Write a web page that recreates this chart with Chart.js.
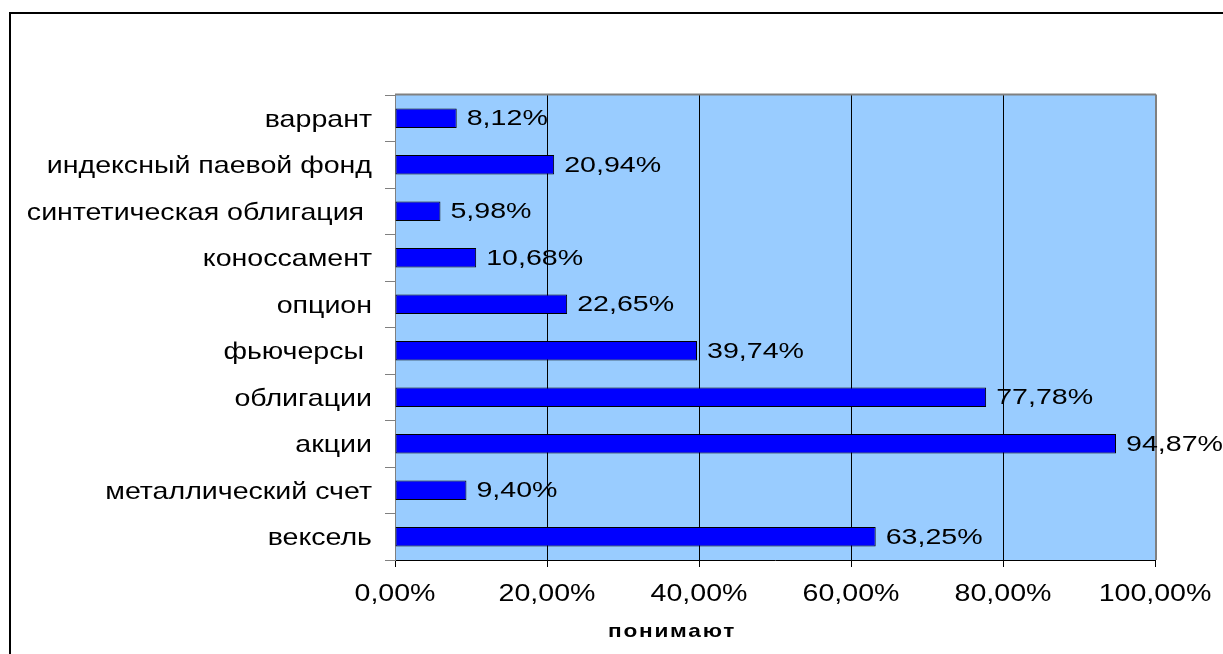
<!DOCTYPE html>
<html><head><meta charset="utf-8">
<script src="https://cdn.jsdelivr.net/npm/chart.js@4.4.1/dist/chart.umd.min.js"></script>
<style>
html,body{margin:0;padding:0;background:#fff;overflow:hidden;}
#wrap{position:relative;width:1223px;height:654px;}
#frame{position:absolute;left:9px;top:12px;width:1240px;height:680px;border:2px solid #000;pointer-events:none;}
canvas{position:absolute;left:0;top:0;}
</style></head>
<body>
<div id="wrap"><div id="frame"></div><canvas id="c" width="1223" height="654"></canvas></div>
<script>
const categories = ['варрант','индексный паевой фонд','синтетическая облигация ','коноссамент','опцион','фьючерсы ','облигации','акции','металлический счет','вексель'];
const values = [8.12,20.94,5.98,10.68,22.65,39.74,77.78,94.87,9.40,63.25];
const axisTitle = 'понимают';
const FONT = '"Liberation Sans", Arial, sans-serif';
const fmt = v => v.toFixed(2).replace('.', ',') + '%';

function drawText(ctx, text, x, y, align, font, sx, spacing) {
  ctx.save();
  ctx.font = font;
  if (spacing && 'letterSpacing' in ctx) ctx.letterSpacing = spacing + 'px';
  ctx.textBaseline = 'middle';
  ctx.textAlign = align;
  ctx.translate(x, y);
  ctx.scale(sx, 1);
  ctx.fillStyle = '#000';
  ctx.fillText(text, 0, 0);
  ctx.restore();
}

const plotBg = {
  id: 'plotBg',
  beforeDraw(chart) {
    const {ctx, chartArea: a} = chart;
    ctx.save();
    ctx.fillStyle = '#99CCFF';
    ctx.fillRect(a.left, a.top, a.right - a.left, a.bottom - a.top);
    ctx.restore();
  },
  beforeDatasetsDraw(chart) {
    const {ctx, chartArea: a} = chart;
    ctx.save();
    ctx.strokeStyle = '#808080';
    ctx.lineWidth = 2;
    ctx.beginPath();
    ctx.moveTo(a.left, a.top - 0.5); ctx.lineTo(a.right + 1, a.top - 0.5);
    ctx.moveTo(a.right + 1, a.top - 0.5); ctx.lineTo(a.right + 1, a.bottom);
    ctx.stroke();
    ctx.restore();
  },
  afterDatasetsDraw(chart) {
    const {ctx} = chart;
    const meta = chart.getDatasetMeta(0);
    const xs = chart.scales.x, ys = chart.scales.y;
    meta.data.forEach((el, i) => {
      drawText(ctx, fmt(values[i]), el.x + 10, el.y + 1, 'left', '22px ' + FONT, 1.3);
    });
    categories.forEach((c, i) => {
      drawText(ctx, c, xs.left - 23, ys.getPixelForValue(i) + 2, 'right', '24px ' + FONT, 1.19);
    });
    xs.ticks.forEach(t => {
      drawText(ctx, fmt(t.value), xs.getPixelForValue(t.value), 594, 'center', '24px ' + FONT, 1.19);
    });
    drawText(ctx, axisTitle, 672, 632, 'center', 'bold 19px ' + FONT, 1.19, 1.5);
  }
};

new Chart(document.getElementById('c'), {
  type: 'bar',
  data: {
    labels: categories,
    datasets: [{
      data: values,
      backgroundColor: '#0000FF',
      borderColor: '#000000',
      borderWidth: 1,
      borderSkipped: false,
      barPercentage: 0.42,
      categoryPercentage: 1
    }]
  },
  options: {
    indexAxis: 'y',
    responsive: false,
    animation: false,
    devicePixelRatio: 1,
    layout: {padding: {left: 0, right: 68, top: 95, bottom: 0}},
    plugins: {legend: {display: false}, tooltip: {enabled: false}},
    scales: {
      x: {
        min: 0, max: 100,
        afterFit(s) { s.height = 94; },
        ticks: {stepSize: 20, display: false},
        grid: {
          color: c => (c.tick && c.tick.value === 0) ? 'rgba(0,0,0,0)' : (c.tick && c.tick.value === 100 ? '#808080' : '#000'),
          tickColor: '#000',
          tickLength: 7,
          lineWidth: 1
        },
        border: {color: '#000', width: 1}
      },
      y: {
        afterFit(s) { s.width = 395; },
        ticks: {display: false},
        grid: {offset: true, drawOnChartArea: false, tickLength: 10, color: '#808080'},
        border: {color: '#808080', width: 1}
      }
    }
  },
  plugins: [plotBg]
});
</script>
</body></html>
